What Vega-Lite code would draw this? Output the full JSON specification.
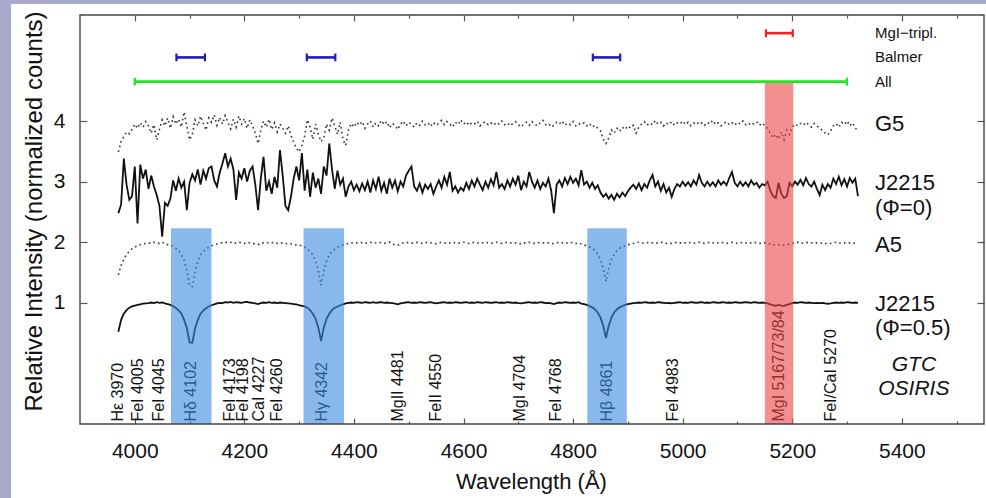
{
"$schema":"https://vega.github.io/schema/vega-lite/v6.json",
"width":975,"height":494,
"autosize":{"type":"none"},
"padding":{"left":11,"top":4,"right":0,"bottom":0},
"background":"#a9a9cc",
"config":{"view":{"fill":"white","stroke":null},"font":"Liberation Sans",
"axis":{"domain":false,"grid":false,"tickColor":"#555","tickWidth":1.2,"labelColor":"#111","titleColor":"#111","labelFont":"Liberation Sans","titleFont":"Liberation Sans","labelFontSize":21,"titleFontSize":22,"titleFontWeight":"normal","labelFlush":false,"labelOverlap":false}},
"datasets":{
"spec":[
{"w":3970,"g":3.49,"j":2.48,"a":1.46,"p":0.52},{"w":3975,"g":3.66,"j":2.62,"a":1.62,"p":0.72},{"w":3980,"g":3.74,"j":3.38,"a":1.72,"p":0.82},{"w":3985,"g":3.82,"j":2.95,"a":1.80,"p":0.88},{"w":3990,"g":3.79,"j":2.70,"a":1.85,"p":0.92},{"w":3995,"g":3.86,"j":2.76,"a":1.89,"p":0.94},{"w":4000,"g":3.95,"j":3.25,"a":1.92,"p":0.955},{"w":4005,"g":3.88,"j":2.31,"a":1.94,"p":0.965},{"w":4010,"g":3.97,"j":3.28,"a":1.96,"p":0.975},{"w":4015,"g":3.90,"j":3.05,"a":1.97,"p":0.985},
{"w":4020,"g":3.99,"j":3.20,"a":1.98,"p":0.99},{"w":4025,"g":3.92,"j":2.88,"a":1.99,"p":0.995},{"w":4030,"g":3.80,"j":3.10,"a":1.98,"p":1.005},{"w":4035,"g":3.94,"j":2.92,"a":2.00,"p":0.995},{"w":4040,"g":3.69,"j":2.78,"a":1.99,"p":1.01},{"w":4045,"g":3.86,"j":2.60,"a":1.98,"p":1.0},{"w":4050,"g":4.02,"j":2.09,"a":2.00,"p":1.005},{"w":4055,"g":3.92,"j":2.65,"a":1.975,"p":0.99},{"w":4060,"g":4.05,"j":2.60,"a":1.96,"p":0.98},{"w":4065,"g":3.88,"j":2.72,"a":1.95,"p":0.965},
{"w":4070,"g":4.07,"j":3.02,"a":1.93,"p":0.945},{"w":4075,"g":3.95,"j":2.85,"a":1.90,"p":0.915},{"w":4080,"g":4.03,"j":3.05,"a":1.86,"p":0.875},{"w":4085,"g":3.90,"j":2.90,"a":1.80,"p":0.825},{"w":4090,"g":4.15,"j":3.00,"a":1.70,"p":0.72},{"w":4095,"g":3.92,"j":2.53,"a":1.53,"p":0.585},{"w":4100,"g":3.69,"j":2.98,"a":1.28,"p":0.345},{"w":4105,"g":3.78,"j":3.12,"a":1.27,"p":0.34},{"w":4110,"g":4.02,"j":3.02,"a":1.51,"p":0.575},{"w":4115,"g":3.92,"j":3.20,"a":1.68,"p":0.715},
{"w":4120,"g":4.08,"j":2.95,"a":1.79,"p":0.82},{"w":4125,"g":3.96,"j":3.18,"a":1.84,"p":0.87},{"w":4130,"g":3.85,"j":3.05,"a":1.885,"p":0.91},{"w":4135,"g":4.05,"j":3.22,"a":1.915,"p":0.94},{"w":4140,"g":3.98,"j":3.25,"a":1.94,"p":0.96},{"w":4145,"g":4.10,"j":3.02,"a":1.955,"p":0.975},{"w":4150,"g":3.93,"j":2.92,"a":1.97,"p":0.99},{"w":4155,"g":4.06,"j":3.15,"a":1.985,"p":1.0},{"w":4160,"g":3.95,"j":3.30,"a":1.99,"p":0.995},{"w":4165,"g":4.09,"j":3.47,"a":2.00,"p":1.01},
{"w":4170,"g":3.98,"j":3.25,"a":1.99,"p":1.005},{"w":4175,"g":3.87,"j":3.38,"a":2.00,"p":1.015},{"w":4180,"g":4.03,"j":3.20,"a":1.98,"p":1.0},{"w":4185,"g":3.90,"j":2.70,"a":1.99,"p":1.01},{"w":4190,"g":4.08,"j":3.15,"a":2.00,"p":1.005},{"w":4195,"g":3.95,"j":3.05,"a":1.99,"p":1.0},{"w":4200,"g":4.04,"j":3.22,"a":1.98,"p":1.01},{"w":4205,"g":3.88,"j":3.00,"a":2.00,"p":1.015},{"w":4210,"g":4.02,"j":3.18,"a":1.99,"p":1.005},{"w":4215,"g":3.92,"j":3.25,"a":1.98,"p":1.0},
{"w":4220,"g":3.80,"j":2.95,"a":1.97,"p":0.99},{"w":4225,"g":3.63,"j":2.53,"a":1.96,"p":0.98},{"w":4230,"g":3.85,"j":3.05,"a":1.98,"p":0.995},{"w":4235,"g":4.00,"j":3.41,"a":1.99,"p":1.005},{"w":4240,"g":3.90,"j":2.85,"a":2.00,"p":1.0},{"w":4245,"g":4.03,"j":3.00,"a":1.985,"p":1.01},{"w":4250,"g":3.86,"j":2.80,"a":1.99,"p":1.0},{"w":4255,"g":3.97,"j":3.08,"a":2.00,"p":1.005},{"w":4260,"g":3.82,"j":2.90,"a":1.98,"p":0.995},{"w":4265,"g":3.95,"j":3.52,"a":1.99,"p":1.005},
{"w":4270,"g":3.88,"j":3.10,"a":1.99,"p":1.0},{"w":4275,"g":3.80,"j":2.60,"a":1.98,"p":0.995},{"w":4280,"g":3.92,"j":2.53,"a":1.97,"p":0.99},{"w":4285,"g":3.76,"j":2.75,"a":1.97,"p":0.985},{"w":4290,"g":3.65,"j":3.05,"a":1.96,"p":0.98},{"w":4295,"g":3.55,"j":3.25,"a":1.955,"p":0.975},{"w":4300,"g":3.49,"j":3.02,"a":1.95,"p":0.96},{"w":4305,"g":3.60,"j":3.47,"a":1.94,"p":0.95},{"w":4310,"g":3.75,"j":2.85,"a":1.92,"p":0.94},{"w":4315,"g":4.02,"j":3.20,"a":1.89,"p":0.92},
{"w":4320,"g":3.90,"j":2.75,"a":1.85,"p":0.88},{"w":4325,"g":3.70,"j":3.15,"a":1.79,"p":0.82},{"w":4330,"g":3.95,"j":2.90,"a":1.69,"p":0.735},{"w":4335,"g":3.78,"j":3.05,"a":1.53,"p":0.59},{"w":4340,"g":3.66,"j":2.80,"a":1.29,"p":0.37},{"w":4345,"g":3.72,"j":3.25,"a":1.53,"p":0.59},{"w":4350,"g":3.95,"j":3.10,"a":1.69,"p":0.735},{"w":4355,"g":3.85,"j":3.63,"a":1.79,"p":0.82},{"w":4360,"g":4.05,"j":3.20,"a":1.85,"p":0.88},{"w":4365,"g":3.92,"j":2.88,"a":1.89,"p":0.92},
{"w":4370,"g":3.78,"j":3.18,"a":1.92,"p":0.94},{"w":4375,"g":3.98,"j":2.95,"a":1.94,"p":0.96},{"w":4380,"g":3.70,"j":3.05,"a":1.955,"p":0.975},{"w":4385,"g":3.60,"j":2.75,"a":1.965,"p":0.99},{"w":4390,"g":3.85,"j":2.92,"a":1.98,"p":1.0},{"w":4395,"g":3.96,"j":3.00,"a":1.99,"p":1.005},{"w":4400,"g":3.90,"j":2.86,"a":1.985,"p":1.0},
{"w":4405,"g":3.98,"j":2.95,"a":1.99,"p":1.01},{"w":4410,"g":3.93,"j":2.84,"a":2.00,"p":1.005},{"w":4415,"g":3.99,"j":2.97,"a":1.99,"p":1.0},{"w":4420,"g":3.88,"j":2.86,"a":1.98,"p":1.01},{"w":4425,"g":3.95,"j":3.00,"a":1.99,"p":1.005},{"w":4430,"g":4.00,"j":2.82,"a":2.00,"p":1.0},{"w":4435,"g":3.90,"j":3.02,"a":1.985,"p":1.01},{"w":4440,"g":3.97,"j":2.88,"a":1.99,"p":1.0},{"w":4445,"g":3.92,"j":3.08,"a":2.00,"p":1.005},{"w":4450,"g":4.01,"j":2.85,"a":1.99,"p":1.01},
{"w":4455,"g":3.94,"j":2.98,"a":1.98,"p":1.0},{"w":4460,"g":3.99,"j":2.80,"a":1.99,"p":1.005},{"w":4465,"g":3.89,"j":3.05,"a":2.00,"p":1.0},{"w":4470,"g":3.96,"j":2.90,"a":1.97,"p":0.995},{"w":4475,"g":3.93,"j":3.02,"a":1.96,"p":0.985},{"w":4480,"g":3.86,"j":2.84,"a":1.95,"p":0.975},{"w":4485,"g":3.95,"j":3.00,"a":1.97,"p":0.99},{"w":4490,"g":4.00,"j":2.92,"a":1.99,"p":1.0},{"w":4495,"g":3.92,"j":3.10,"a":2.00,"p":1.005},{"w":4500,"g":3.98,"j":3.18,"a":1.99,"p":1.01},
{"w":4505,"g":3.95,"j":3.25,"a":1.985,"p":1.0},{"w":4510,"g":3.90,"j":2.92,"a":1.99,"p":1.005},{"w":4515,"g":3.97,"j":2.85,"a":2.00,"p":1.0},{"w":4520,"g":3.93,"j":2.97,"a":1.99,"p":1.01},{"w":4525,"g":4.00,"j":2.82,"a":1.98,"p":1.005},{"w":4530,"g":3.94,"j":2.95,"a":1.99,"p":1.0},{"w":4535,"g":3.97,"j":2.88,"a":2.00,"p":1.005},{"w":4540,"g":3.91,"j":2.96,"a":1.99,"p":1.01},{"w":4545,"g":3.98,"j":2.80,"a":1.98,"p":1.0},{"w":4550,"g":3.93,"j":2.92,"a":1.975,"p":0.99},
{"w":4555,"g":3.96,"j":3.02,"a":1.99,"p":1.0},{"w":4560,"g":4.01,"j":2.90,"a":2.00,"p":1.005},{"w":4565,"g":3.94,"j":3.08,"a":1.99,"p":1.01},{"w":4570,"g":3.99,"j":2.95,"a":1.98,"p":1.0},{"w":4575,"g":3.95,"j":3.16,"a":1.99,"p":1.005},{"w":4580,"g":3.90,"j":2.85,"a":2.00,"p":1.0},{"w":4585,"g":3.98,"j":2.92,"a":1.99,"p":1.01},{"w":4590,"g":3.94,"j":2.82,"a":1.985,"p":1.005},{"w":4595,"g":4.02,"j":2.90,"a":1.99,"p":1.0},{"w":4600,"g":3.95,"j":2.85,"a":2.00,"p":1.005},
{"w":4605,"g":3.99,"j":2.98,"a":1.99,"p":1.01},{"w":4610,"g":3.93,"j":2.88,"a":1.98,"p":1.0},{"w":4615,"g":3.97,"j":3.02,"a":1.99,"p":1.005},{"w":4620,"g":3.95,"j":2.92,"a":2.00,"p":1.0},{"w":4625,"g":4.00,"j":3.05,"a":1.99,"p":1.01},{"w":4630,"g":3.92,"j":2.95,"a":1.98,"p":1.005},{"w":4635,"g":3.96,"j":2.86,"a":1.99,"p":1.0},{"w":4640,"g":3.99,"j":3.00,"a":2.00,"p":1.01},{"w":4645,"g":3.94,"j":2.90,"a":1.99,"p":1.005},{"w":4650,"g":3.97,"j":3.04,"a":1.98,"p":1.0},
{"w":4655,"g":3.93,"j":2.94,"a":1.99,"p":1.005},{"w":4660,"g":3.98,"j":3.16,"a":2.00,"p":1.01},{"w":4665,"g":3.95,"j":2.90,"a":1.99,"p":1.0},{"w":4670,"g":4.00,"j":2.96,"a":1.98,"p":1.005},{"w":4675,"g":3.94,"j":2.88,"a":1.99,"p":1.0},{"w":4680,"g":3.97,"j":3.02,"a":2.00,"p":1.01},{"w":4685,"g":3.92,"j":2.92,"a":1.99,"p":1.005},{"w":4690,"g":3.96,"j":3.05,"a":1.98,"p":1.0},{"w":4695,"g":3.99,"j":2.95,"a":1.99,"p":1.005},{"w":4700,"g":3.94,"j":3.10,"a":1.98,"p":0.995},
{"w":4705,"g":3.90,"j":2.86,"a":1.97,"p":0.99},{"w":4710,"g":3.95,"j":3.00,"a":1.99,"p":1.0},{"w":4715,"g":3.98,"j":2.92,"a":1.99,"p":1.005},{"w":4720,"g":3.93,"j":3.16,"a":2.00,"p":1.01},{"w":4725,"g":3.99,"j":3.00,"a":1.99,"p":1.0},{"w":4730,"g":3.95,"j":2.90,"a":1.98,"p":1.005},{"w":4735,"g":3.92,"j":3.02,"a":1.99,"p":1.0},{"w":4740,"g":3.97,"j":2.88,"a":2.00,"p":1.01},{"w":4745,"g":4.01,"j":2.98,"a":1.99,"p":1.005},{"w":4750,"g":3.94,"j":2.92,"a":1.98,"p":0.995},
{"w":4755,"g":3.96,"j":3.05,"a":1.99,"p":1.0},{"w":4760,"g":3.90,"j":2.85,"a":1.98,"p":0.99},{"w":4765,"g":3.93,"j":2.48,"a":1.975,"p":0.98},{"w":4770,"g":3.98,"j":2.95,"a":1.99,"p":0.995},{"w":4775,"g":3.95,"j":3.02,"a":2.00,"p":1.005},{"w":4780,"g":4.00,"j":2.92,"a":1.99,"p":1.0},{"w":4785,"g":3.93,"j":3.06,"a":1.98,"p":1.01},{"w":4790,"g":3.97,"j":2.96,"a":1.99,"p":1.005},{"w":4795,"g":3.94,"j":3.08,"a":2.00,"p":1.0},{"w":4800,"g":3.99,"j":2.98,"a":1.99,"p":1.005},
{"w":4805,"g":3.92,"j":3.05,"a":1.98,"p":1.0},{"w":4810,"g":3.96,"j":2.94,"a":1.99,"p":1.01},{"w":4815,"g":3.94,"j":3.19,"a":1.97,"p":0.988},{"w":4820,"g":3.97,"j":2.95,"a":1.955,"p":0.977},{"w":4825,"g":3.92,"j":3.00,"a":1.94,"p":0.965},{"w":4830,"g":3.96,"j":2.90,"a":1.92,"p":0.948},{"w":4835,"g":3.90,"j":2.98,"a":1.90,"p":0.925},{"w":4840,"g":3.93,"j":2.88,"a":1.86,"p":0.89},{"w":4845,"g":3.88,"j":2.94,"a":1.80,"p":0.84},{"w":4850,"g":3.84,"j":2.82,"a":1.715,"p":0.756},
{"w":4855,"g":3.70,"j":2.75,"a":1.57,"p":0.62},{"w":4860,"g":3.63,"j":2.80,"a":1.35,"p":0.42},{"w":4865,"g":3.72,"j":2.72,"a":1.57,"p":0.62},{"w":4870,"g":3.85,"j":2.78,"a":1.715,"p":0.756},{"w":4875,"g":3.80,"j":2.70,"a":1.80,"p":0.84},{"w":4880,"g":3.88,"j":2.80,"a":1.86,"p":0.89},{"w":4885,"g":3.83,"j":2.74,"a":1.90,"p":0.925},{"w":4890,"g":3.90,"j":2.82,"a":1.92,"p":0.948},{"w":4895,"g":3.86,"j":2.76,"a":1.94,"p":0.965},{"w":4900,"g":3.92,"j":2.84,"a":1.955,"p":0.977},
{"w":4905,"g":3.88,"j":2.90,"a":1.97,"p":0.988},{"w":4910,"g":3.93,"j":2.95,"a":1.98,"p":0.995},{"w":4915,"g":3.80,"j":2.88,"a":1.99,"p":1.0},{"w":4920,"g":3.90,"j":2.97,"a":2.00,"p":1.005},{"w":4925,"g":3.95,"j":2.86,"a":1.99,"p":1.0},{"w":4930,"g":3.99,"j":2.96,"a":1.98,"p":1.01},{"w":4935,"g":3.93,"j":2.90,"a":1.99,"p":1.005},{"w":4940,"g":3.97,"j":3.02,"a":2.00,"p":1.0},{"w":4945,"g":3.94,"j":3.11,"a":1.99,"p":1.005},{"w":4950,"g":4.01,"j":2.92,"a":1.98,"p":1.0},
{"w":4955,"g":3.95,"j":3.00,"a":1.99,"p":1.01},{"w":4960,"g":3.98,"j":2.85,"a":2.00,"p":1.005},{"w":4965,"g":3.92,"j":2.96,"a":1.99,"p":1.0},{"w":4970,"g":3.97,"j":2.82,"a":1.98,"p":0.995},{"w":4975,"g":3.94,"j":2.90,"a":1.99,"p":1.0},{"w":4980,"g":3.99,"j":2.75,"a":1.98,"p":0.99},{"w":4985,"g":3.93,"j":2.88,"a":1.99,"p":1.0},{"w":4990,"g":3.97,"j":2.96,"a":2.00,"p":1.005},{"w":4995,"g":3.95,"j":2.92,"a":1.99,"p":1.01},{"w":5000,"g":4.00,"j":3.00,"a":1.98,"p":1.0},
{"w":5005,"g":3.94,"j":2.93,"a":1.99,"p":1.005},{"w":5010,"g":3.98,"j":2.99,"a":2.00,"p":1.0},{"w":5015,"g":3.92,"j":2.92,"a":1.99,"p":1.01},{"w":5020,"g":3.96,"j":3.02,"a":1.98,"p":1.005},{"w":5025,"g":3.99,"j":2.95,"a":1.99,"p":1.0},{"w":5030,"g":3.94,"j":3.11,"a":2.00,"p":1.005},{"w":5035,"g":3.97,"j":2.98,"a":1.99,"p":1.01},{"w":5040,"g":3.93,"j":2.92,"a":1.98,"p":1.0},{"w":5045,"g":3.98,"j":3.00,"a":1.99,"p":1.005},{"w":5050,"g":3.95,"j":2.93,"a":2.00,"p":1.0},
{"w":5055,"g":4.01,"j":2.99,"a":1.99,"p":1.01},{"w":5060,"g":3.94,"j":2.92,"a":1.98,"p":1.005},{"w":5065,"g":3.97,"j":3.02,"a":1.99,"p":1.0},{"w":5070,"g":3.92,"j":2.95,"a":2.00,"p":1.005},{"w":5075,"g":3.96,"j":3.00,"a":1.99,"p":1.01},{"w":5080,"g":3.99,"j":2.94,"a":1.98,"p":1.0},{"w":5085,"g":3.94,"j":3.06,"a":1.99,"p":1.005},{"w":5090,"g":3.97,"j":3.16,"a":2.00,"p":1.0},{"w":5095,"g":3.93,"j":2.98,"a":1.99,"p":1.01},{"w":5100,"g":3.98,"j":2.92,"a":1.98,"p":1.005},
{"w":5105,"g":3.95,"j":3.00,"a":1.99,"p":1.0},{"w":5110,"g":4.00,"j":2.93,"a":2.00,"p":1.005},{"w":5115,"g":3.94,"j":2.99,"a":1.99,"p":1.01},{"w":5120,"g":3.97,"j":2.92,"a":1.98,"p":1.005},{"w":5125,"g":3.93,"j":3.02,"a":1.99,"p":1.0},{"w":5130,"g":3.96,"j":2.95,"a":2.00,"p":1.01},{"w":5135,"g":3.99,"j":2.98,"a":1.99,"p":1.005},{"w":5140,"g":3.93,"j":2.90,"a":1.98,"p":1.0},{"w":5145,"g":3.97,"j":2.96,"a":1.99,"p":1.005},{"w":5150,"g":3.92,"j":2.94,"a":1.99,"p":1.0},
{"w":5155,"g":3.88,"j":3.00,"a":1.98,"p":0.99},{"w":5160,"g":3.80,"j":2.85,"a":1.97,"p":0.975},{"w":5165,"g":3.72,"j":2.76,"a":1.96,"p":0.96},{"w":5170,"g":3.78,"j":2.73,"a":1.95,"p":0.95},{"w":5175,"g":3.70,"j":2.98,"a":1.96,"p":0.965},{"w":5180,"g":3.82,"j":2.80,"a":1.95,"p":0.955},{"w":5185,"g":3.69,"j":2.73,"a":1.955,"p":0.95},{"w":5190,"g":3.85,"j":2.76,"a":1.96,"p":0.965},{"w":5195,"g":3.78,"j":2.98,"a":1.97,"p":0.98},{"w":5200,"g":3.90,"j":2.92,"a":1.98,"p":0.995},
{"w":5205,"g":3.95,"j":3.00,"a":1.99,"p":1.005},{"w":5210,"g":3.92,"j":2.95,"a":2.00,"p":1.0},{"w":5215,"g":3.96,"j":3.03,"a":1.99,"p":1.01},{"w":5220,"g":3.93,"j":2.94,"a":1.98,"p":1.005},{"w":5225,"g":3.98,"j":3.06,"a":1.99,"p":1.0},{"w":5230,"g":3.94,"j":2.96,"a":2.00,"p":1.005},{"w":5235,"g":3.90,"j":2.92,"a":1.99,"p":1.0},{"w":5240,"g":3.96,"j":3.00,"a":1.98,"p":0.995},{"w":5245,"g":3.92,"j":2.88,"a":1.99,"p":1.0},{"w":5250,"g":3.88,"j":2.78,"a":1.98,"p":0.995},
{"w":5255,"g":3.85,"j":2.95,"a":1.99,"p":1.0},{"w":5260,"g":3.80,"j":2.86,"a":1.98,"p":0.99},{"w":5265,"g":3.77,"j":2.96,"a":1.975,"p":0.985},{"w":5270,"g":3.84,"j":2.90,"a":1.98,"p":0.99},{"w":5275,"g":3.92,"j":3.05,"a":1.99,"p":1.0},{"w":5280,"g":3.96,"j":2.96,"a":2.00,"p":1.005},{"w":5285,"g":3.90,"j":3.08,"a":1.99,"p":1.0},{"w":5290,"g":3.98,"j":2.94,"a":1.98,"p":1.005},{"w":5295,"g":3.94,"j":3.04,"a":1.99,"p":1.0},{"w":5300,"g":4.00,"j":2.92,"a":1.98,"p":1.01},
{"w":5305,"g":3.92,"j":3.06,"a":1.99,"p":1.005},{"w":5310,"g":3.97,"j":2.98,"a":1.98,"p":1.0},{"w":5315,"g":3.88,"j":3.05,"a":1.99,"p":1.005},{"w":5320,"g":3.85,"j":2.76,"a":1.98,"p":1.0}
],
"lines":[
{"t":"Hε 3970","w":3970},{"t":"FeI 4005","w":4005},{"t":"FeI 4045","w":4045},{"t":"Hδ 4102","w":4102},{"t":"FeI 4173","w":4173},{"t":"FeI 4198","w":4198},{"t":"CaI 4227","w":4227},{"t":"FeI 4260","w":4260},{"t":"Hγ 4342","w":4342},{"t":"MgII 4481","w":4481},{"t":"FeII 4550","w":4550},{"t":"MgI 4704","w":4704},{"t":"FeI 4768","w":4768},{"t":"Hβ 4861","w":4861},{"t":"FeI 4983","w":4983},{"t":"MgI 5167/73/84","w":5175},{"t":"FeI/CaI 5270","w":5270}
],
"rects":[
{"k":"Balmer","x1":4066,"x2":4140,"y1":-1,"y2":2.23},{"k":"Balmer","x1":4308,"x2":4382,"y1":-1,"y2":2.23},{"k":"Balmer","x1":4826,"x2":4898,"y1":-1,"y2":2.23},{"k":"MgI","x1":5150,"x2":5202,"y1":-1,"y2":4.66}
],
"bars":[
{"k":"MgI","x1":5152,"x2":5201,"y":5.45},{"k":"Balmer","x1":4076,"x2":4128,"y":5.05},{"k":"Balmer","x1":4314,"x2":4366,"y":5.05},{"k":"Balmer","x1":4836,"x2":4886,"y":5.05},{"k":"All","x1":4000,"x2":5300,"y":4.65}
],
"labs":[
{"t":"G5","w":5351,"y":3.95},{"t":"J2215","w":5351,"y":2.98},{"t":"(Φ=0)","w":5351,"y":2.56},{"t":"A5","w":5351,"y":1.95},{"t":"J2215","w":5351,"y":0.98},{"t":"(Φ=0.5)","w":5351,"y":0.59}
],
"legs":[
{"t":"MgI−tripl.","w":5351,"y":5.45},{"t":"Balmer","w":5351,"y":5.05},{"t":"All","w":5351,"y":4.65}
],
"site":[
{"t":"GTC","w":5422,"y":-0.02},{"t":"OSIRIS","w":5422,"y":-0.42}
],
"box":[{"x1":3900,"x2":5550,"y1":-1,"y2":5.75}]
},
"layer":[
{"data":{"name":"spec"},"mark":{"type":"line","stroke":"#333","strokeWidth":1.6,"strokeDash":[1.6,3.2]},
"encoding":{
"x":{"field":"w","type":"quantitative","scale":{"domain":[3774.06,5553.65],"nice":false,"zero":false},
"axis":{"orient":"bottom","offset":-74,"values":[4000,4200,4400,4600,4800,5000,5200,5400],"format":"d","tickSize":-6,"labelPadding":22,"title":"Wavelength (Å)","titleX":520,"titleY":47,"titleBaseline":"top"}},
"y":{"field":"g","type":"quantitative","scale":{"domain":[-2.2213,5.9316],"nice":false,"zero":false},
"axis":{"orient":"left","offset":-69,"values":[1,2,3,4],"tickSize":-7,"labelPadding":22,"title":"Relative Intensity (normalized counts)","titleFontSize":24,"titleX":-46,"titleY":207,"titleAngle":270,"titleAlign":"center","titleBaseline":"middle"}}}},
{"data":{"name":"spec"},"mark":{"type":"line","stroke":"#111","strokeWidth":1.8},
"encoding":{
"x":{"field":"w","type":"quantitative","axis":{"orient":"top","offset":-11,"values":[4000,4200,4400,4600,4800,5000,5200,5400],"tickSize":-6,"labels":false,"title":null}},
"y":{"field":"j","type":"quantitative","axis":{"orient":"right","offset":-2,"values":[1,2,3,4],"tickSize":-7,"labels":false,"title":null}}}},
{"data":{"name":"spec"},"mark":{"type":"line","stroke":"#333","strokeWidth":1.6,"strokeDash":[1.6,3.2]},
"encoding":{
"x":{"field":"w","type":"quantitative","axis":{"orient":"bottom","offset":-74,"values":[4100,4300,4500,4700,4900,5100,5300,5500],"tickSize":-3,"labels":false,"title":null}},
"y":{"field":"a","type":"quantitative","axis":null}}},
{"data":{"name":"spec"},"mark":{"type":"line","stroke":"#111","strokeWidth":1.8},
"encoding":{
"x":{"field":"w","type":"quantitative","axis":{"orient":"top","offset":-11,"values":[4100,4300,4500,4700,4900,5100,5300,5500],"tickSize":-3,"labels":false,"title":null}},
"y":{"field":"p","type":"quantitative","axis":null}}},
{"data":{"name":"lines"},"mark":{"type":"text","angle":270,"align":"left","baseline":"middle","fontSize":16,"color":"#111"},
"encoding":{"x":{"field":"w","type":"quantitative","axis":null},"y":{"datum":-0.96,"type":"quantitative","axis":null},"text":{"field":"t"}}},
{"data":{"name":"rects"},"mark":{"type":"rect","fillOpacity":0.6},
"encoding":{"x":{"field":"x1","type":"quantitative","axis":null},"x2":{"field":"x2"},"y":{"field":"y1","type":"quantitative","axis":null},"y2":{"field":"y2"},
"fill":{"field":"k","type":"nominal","scale":{"domain":["Balmer","MgI"],"range":["#3a8ae0","#ea4444"]},"legend":null}}},
{"data":{"name":"box"},"mark":{"type":"rect","fill":"transparent","stroke":"#444","strokeWidth":1.4},
"encoding":{"x":{"field":"x1","type":"quantitative","axis":null},"x2":{"field":"x2"},"y":{"field":"y1","type":"quantitative","axis":null},"y2":{"field":"y2"}}},
{"data":{"name":"bars"},"mark":{"type":"rule","strokeWidth":2.6},
"encoding":{"x":{"field":"x1","type":"quantitative","axis":null},"x2":{"field":"x2"},"y":{"field":"y","type":"quantitative","axis":null},
"stroke":{"field":"k","type":"nominal","scale":{"domain":["MgI","Balmer","All"],"range":["#ee2222","#1c1cc0","#22e622"]},"legend":null}}},
{"data":{"name":"bars"},"transform":[{"fold":["x1","x2"],"as":["end","xv"]}],
"mark":{"type":"point","shape":"M0,-1L0,1","filled":false,"size":60,"strokeWidth":2.2,"opacity":1},
"encoding":{"x":{"field":"xv","type":"quantitative","axis":null},"y":{"field":"y","type":"quantitative","axis":null},
"stroke":{"field":"k","type":"nominal","scale":{"domain":["MgI","Balmer","All"],"range":["#ee2222","#1c1cc0","#22e622"]},"legend":null}}},
{"data":{"name":"labs"},"mark":{"type":"text","align":"left","baseline":"middle","fontSize":22,"color":"#111"},
"encoding":{"x":{"field":"w","type":"quantitative","axis":null},"y":{"field":"y","type":"quantitative","axis":null},"text":{"field":"t"}}},
{"data":{"name":"legs"},"mark":{"type":"text","align":"left","baseline":"middle","fontSize":15,"color":"#111"},
"encoding":{"x":{"field":"w","type":"quantitative","axis":null},"y":{"field":"y","type":"quantitative","axis":null},"text":{"field":"t"}}},
{"data":{"name":"site"},"mark":{"type":"text","align":"center","baseline":"middle","fontSize":21,"fontStyle":"italic","color":"#111"},
"encoding":{"x":{"field":"w","type":"quantitative","axis":null},"y":{"field":"y","type":"quantitative","axis":null},"text":{"field":"t"}}}
],
"resolve":{"axis":{"x":"independent","y":"independent"}}
}
